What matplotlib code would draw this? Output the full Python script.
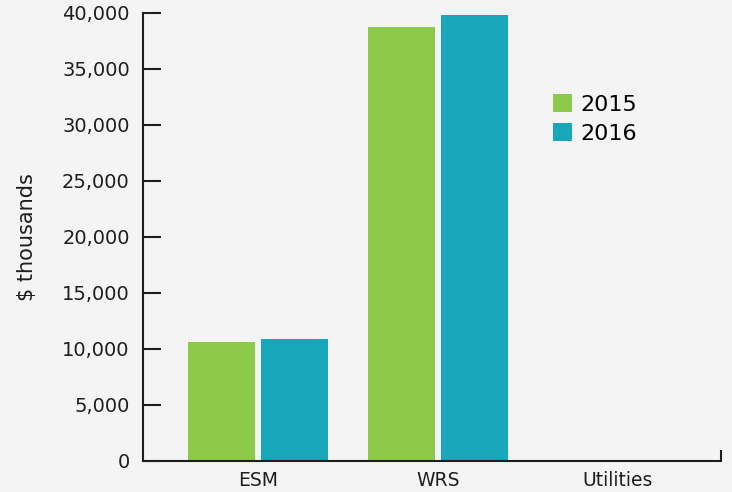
import matplotlib
matplotlib.use("Agg")
import matplotlib.pyplot as plt
import numpy as np
from matplotlib.ticker import FuncFormatter

categories = ["ESM", "WRS", "Utilities"]
years = ["2015", "2016"]
values_2015 = [10600, 38750, 80]
values_2016 = [10900, 39800, 90]
yticks = [0, 5000, 10000, 15000, 20000, 25000, 30000, 35000, 40000]

green = "#8cc94a"
teal = "#17a6ba"
bg = "#f4f4f4"
ink = "#1e1e1e"

plt.rcParams["font.family"] = ["DejaVu Sans"]

fig = plt.figure(figsize=(7.32, 4.92), dpi=100, facecolor=bg)
ax = fig.add_axes([143 / 732, 1 - 461 / 492, (721 - 143) / 732, (461 - 13) / 492])
ax.set_facecolor(bg)

x = np.arange(len(categories))
w = 0.372
off = 0.204
ax.bar(x - off, values_2015, width=w, color=green, label=years[0])
ax.bar(x + off, values_2016, width=w, color=teal, label=years[1])

ax.set_xlim(-0.639, 2.572)
ax.set_ylim(0, 40000)
ax.set_yticks(yticks)
ax.yaxis.set_major_formatter(FuncFormatter(lambda v, p: f"{int(v):,}"))
ax.tick_params(axis="y", direction="in", length=13, width=1.5, labelsize=14,
               pad=9.5, colors=ink)

ax.set_xticks(x)
ax.set_xticklabels(categories)
ax.tick_params(axis="x", length=0, labelsize=13.5, pad=7.5, colors=ink)
# small end tick at the right of the category axis
ax.plot([2.572, 2.572], [0, 1000], color=ink, lw=1.5, clip_on=False,
        solid_capstyle="butt")

for s in ["top", "right"]:
    ax.spines[s].set_visible(False)
for s in ["left", "bottom"]:
    ax.spines[s].set_linewidth(1.5)
    ax.spines[s].set_color(ink)

ax.set_ylabel("$ thousands", fontsize=15, labelpad=18, color=ink)

ax.legend(loc="upper left", bbox_to_anchor=(0.679, 0.859), frameon=False,
          fontsize=16, handlelength=0.85, handleheight=0.85, handletextpad=0.35,
          labelspacing=0.38, borderpad=0.3)

fig.savefig("out.png", dpi=100, facecolor=bg)
